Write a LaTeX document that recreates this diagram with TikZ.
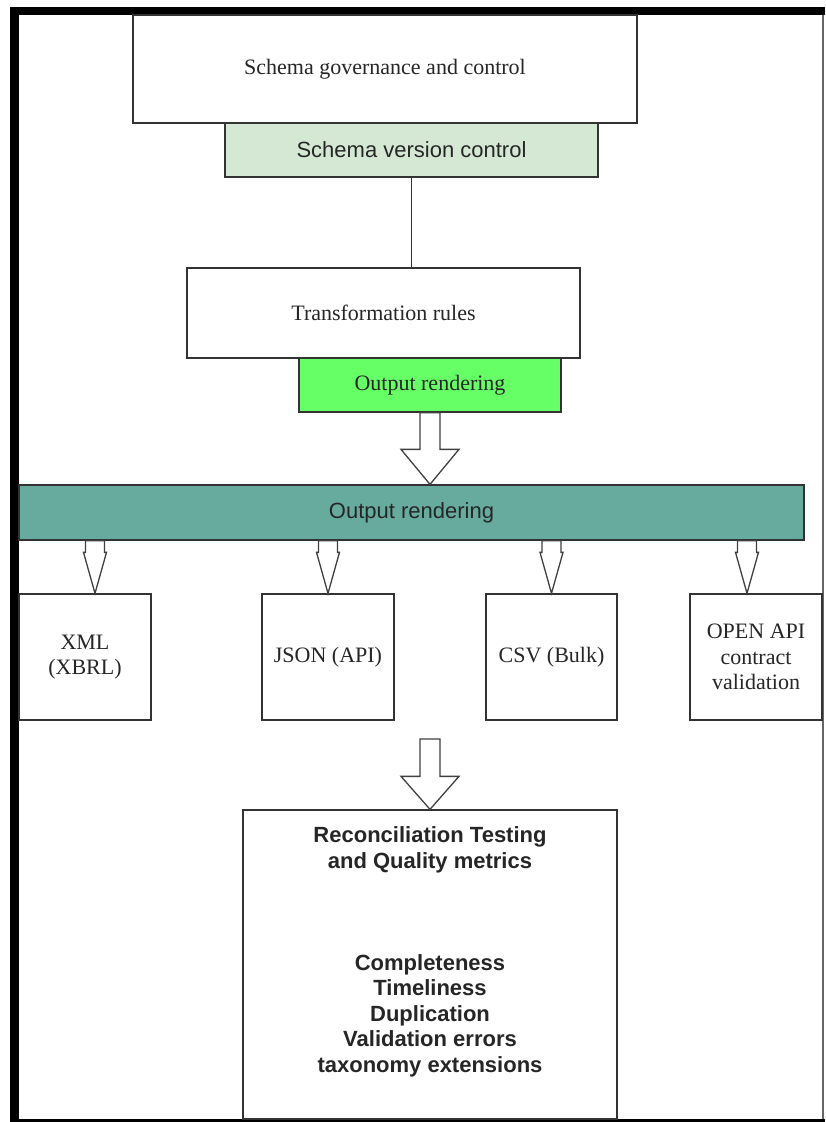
\documentclass[tikz,border=0pt]{standalone}
\usepackage{fontspec}
\setmainfont{Liberation Serif}
\setsansfont{Liberation Sans}
\usetikzlibrary{calc,positioning}
\definecolor{verfill}{HTML}{D5E8D4}
\definecolor{outfill}{HTML}{66FF66}
\definecolor{barfill}{HTML}{67AB9F}
\tikzset{
	box/.style={draw=black!80, line width=1.3pt, fill=white, rectangle, inner sep=0pt, align=center, text=black!85, font=\fontsize{22}{25.5}\selectfont},
	sansbox/.style={box, font=\sffamily\fontsize{22}{25.5}\selectfont},
	fatline/.style={draw=black!75, line width=1.3pt, fill=white, line join=miter},
}
\newcommand{\fatarrow}[5]{\draw[fatline] let \p1=(#1), \p2=(#2) in (\x1-#3, \y1) -- (\x1-#3, \y2+#5) -- (\x1-#4, \y2+#5) -- (\x2, \y2) -- (\x1+#4, \y2+#5) -- (\x1+#3, \y2+#5) -- (\x1+#3, \y1) -- cycle;}
\begin{document}
\begin{tikzpicture}[x=1pt, y=-1pt]
	\useasboundingbox (0, 0) rectangle (825, 1122);
	\fill[black] (10, 7) rectangle (825, 15);
	\fill[black] (10, 7) rectangle (19, 1122);
	\fill[black] (10, 1119) rectangle (825, 1122);
	\draw[black!60, line width=2pt] (823, 15) -- (823, 1119);
	\node[box, minimum width=504, minimum height=108] at (385, 69) (gov) {Schema governance and control};
	\node[sansbox, fill=verfill, minimum width=373, minimum height=54] at (411.5, 150) (ver) {Schema version control};
	\node[box, minimum width=393, minimum height=90] at (383.5, 313) (rules) {Transformation rules};
	\draw[black!80, line width=1.3pt] (ver.south) -- (ver.south |- rules.north);
	\node[box, fill=outfill, minimum width=262, minimum height=54] at (430, 385) (outg) {Output rendering};
	\node[sansbox, fill=barfill, minimum width=785, minimum height=55] at (411.5, 512.5) (bar) {Output rendering};
	\fatarrow{outg.south}{outg.south |- bar.north}{10pt}{29pt}{35pt}
	\node[box, minimum width=132, minimum height=126] at (85, 657) (xml) {XML\\(XBRL)};
	\node[box, minimum width=132, minimum height=126] at (328, 657) (json) {JSON (API)};
	\node[box, minimum width=131, minimum height=126] at (551.5, 657) (csv) {CSV (Bulk)};
	\node[box, minimum width=132, minimum height=126] at (756, 657) (oapi) {OPEN API\\contract\\validation};
	\fatarrow{$(xml.north |- bar.south)+(10, 0)$}{$(xml.north)+(10, 0)$}{9.5pt}{11.5pt}{41pt}
	\fatarrow{json.north |- bar.south}{json.north}{9.5pt}{11.5pt}{41pt}
	\fatarrow{csv.north |- bar.south}{csv.north}{9.5pt}{11.5pt}{41pt}
	\fatarrow{$(oapi.north |- bar.south)+(-9, 0)$}{$(oapi.north)+(-9, 0)$}{9.5pt}{11.5pt}{41pt}
	\node[box, minimum width=374, minimum height=309] at (430, 964.5) (recon) {};
	\node[box, draw=none, fill=none, anchor=north, font=\sffamily\bfseries\fontsize{22}{25.5}\selectfont] at (430, 826) (recontext) {Reconciliation Testing\\and Quality metrics\\[76.5pt]Completeness\\Timeliness\\Duplication\\Validation errors\\taxonomy extensions};
	\coordinate (recontop) at (430, 739);
	\fatarrow{recontop}{recon.north}{10pt}{29pt}{33pt}
\end{tikzpicture}
\end{document}
